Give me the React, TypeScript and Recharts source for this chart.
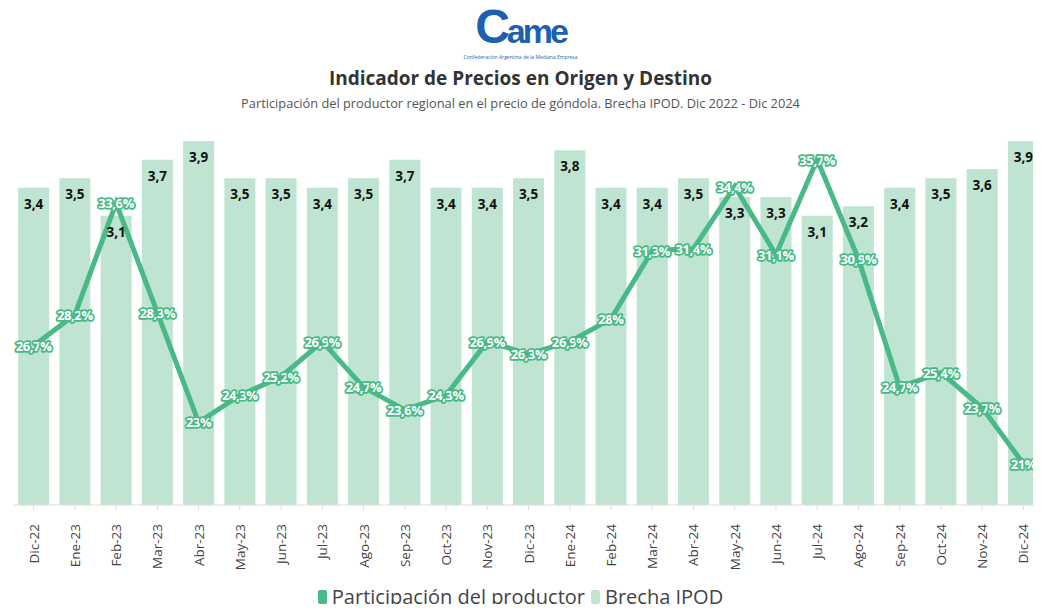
import { ComposedChart, Bar, Line, XAxis, YAxis, LabelList } from 'recharts';

const months = [
    'Dic-22', 'Ene-23', 'Feb-23', 'Mar-23', 'Abr-23', 'May-23', 'Jun-23', 'Jul-23', 'Ago-23',
    'Sep-23', 'Oct-23', 'Nov-23', 'Dic-23', 'Ene-24', 'Feb-24', 'Mar-24', 'Abr-24', 'May-24',
    'Jun-24', 'Jul-24', 'Ago-24', 'Sep-24', 'Oct-24', 'Nov-24', 'Dic-24',
];

// Brecha IPOD (veces)
const brecha = [
    3.4, 3.5, 3.1, 3.7, 3.9, 3.5, 3.5, 3.4, 3.5, 3.7, 3.4, 3.4, 3.5,
    3.8, 3.4, 3.4, 3.5, 3.3, 3.3, 3.1, 3.2, 3.4, 3.5, 3.6, 3.9,
];

// Participación del productor (%)
const participacion = [
    26.7, 28.2, 33.6, 28.3, 23, 24.3, 25.2, 26.9, 24.7, 23.6, 24.3, 26.9, 26.3,
    26.9, 28, 31.3, 31.4, 34.4, 31.1, 35.7, 30.9, 24.7, 25.4, 23.7, 21,
];

const data = months.map((m, i) => ({ mes: m, brecha: brecha[i], part: participacion[i] }));

const LINE = '#48b987';
const BAR = '#c0e4d2';
const BLUE = '#1d5fb0';
const FONT = '"Open Sans", "Noto Sans", sans-serif';

const fmt = (v: number) => String(v).replace('.', ',');

const BarLabel = (props: any) => {
    const { x, y, width, value } = props;
    return (
        <text x={x + width / 2} y={y + 16} textAnchor="middle" dominantBaseline="central"
            fontSize={13.5} fontWeight={700} fill="#111" fontFamily={FONT}>
            {fmt(value)}
        </text>
    );
};

const LineLabel = (props: any) => {
    const { x, y, value } = props;
    return (
        <text x={x} y={y} textAnchor="middle" dominantBaseline="central"
            fontSize={13} fontWeight={700} fill="#fff" stroke={LINE} strokeWidth={3.5}
            paintOrder="stroke" strokeLinejoin="round" fontFamily={FONT} letterSpacing={-0.4}>
            {fmt(value)}%
        </text>
    );
};

const MonthTick = (props: any) => {
    const { x, y, payload } = props;
    return (
        <text x={x} y={y + 12} transform={`rotate(-90 ${x} ${y + 12})`} textAnchor="end"
            dominantBaseline="central" fontSize={13.5} fill="#444" fontFamily={FONT}>
            {payload.value}
        </text>
    );
};

export default function App() {
    return (
        <div style={{ position: 'relative', width: 1041, height: 612, margin: -8, background: '#fff', fontFamily: FONT, overflow: 'hidden' }}>
            <div style={{ position: 'absolute', top: 0, left: 0, width: 1041, height: 54, lineHeight: '54px', textAlign: 'center', color: BLUE, fontWeight: 800, fontFamily: '"Liberation Sans", Arial, sans-serif' }}>
                <span style={{ fontSize: 48, letterSpacing: -3 }}>C</span>
                <span style={{ fontSize: 34, letterSpacing: -3 }}>ame</span>
            </div>
            <div style={{ position: 'absolute', top: 54, left: 0, width: 1041, textAlign: 'center', fontSize: 5, lineHeight: '6px', color: BLUE }}>
                Confederación Argentina de la Mediana Empresa
            </div>
            <div style={{ position: 'absolute', top: 65, left: 0, width: 1041, textAlign: 'center', fontSize: 19, fontWeight: 700, color: '#333' }}>
                Indicador de Precios en Origen y Destino
            </div>
            <div style={{ position: 'absolute', top: 94, left: 0, width: 1041, textAlign: 'center', fontSize: 12.8, color: '#555' }}>
                Participación del productor regional en el precio de góndola. Brecha IPOD. Dic 2022 - Dic 2024
            </div>

            <div style={{ position: 'absolute', top: 0, left: 0 }}>
                <ComposedChart width={1041} height={612} data={data}
                    margin={{ top: 141, right: -3, bottom: 0, left: 13 }} barCategoryGap="12.5%">
                    <XAxis dataKey="mes" interval={0} height={107} tick={<MonthTick />}
                        axisLine={{ stroke: '#ddd' }} tickLine={{ stroke: '#ddd' }} tickSize={5} />
                    <YAxis yAxisId="bar" hide domain={[0, 3.9]} />
                    <YAxis yAxisId="line" hide orientation="right" domain={[19, 36.6]} />
                    <Bar yAxisId="bar" dataKey="brecha" name="Brecha IPOD" fill={BAR} isAnimationActive={false}>
                        <LabelList dataKey="brecha" content={<BarLabel />} />
                    </Bar>
                    <Line yAxisId="line" type="linear" dataKey="part" name="Participación del productor"
                        stroke={LINE} strokeWidth={5} dot={false} isAnimationActive={false}>
                        <LabelList dataKey="part" content={<LineLabel />} />
                    </Line>
                </ComposedChart>
            </div>

            <div style={{ position: 'absolute', top: 583, left: 0, width: 1041, display: 'flex', justifyContent: 'center', alignItems: 'center', fontSize: 20, color: '#444' }}>
                <span style={{ display: 'inline-block', width: 9, height: 14, borderRadius: 2, background: LINE, marginRight: 5 }} />
                <span style={{ marginRight: 6 }}>Participación del productor</span>
                <span style={{ display: 'inline-block', width: 9, height: 14, borderRadius: 2, background: BAR, marginRight: 5 }} />
                <span>Brecha IPOD</span>
            </div>
        </div>
    );
}
